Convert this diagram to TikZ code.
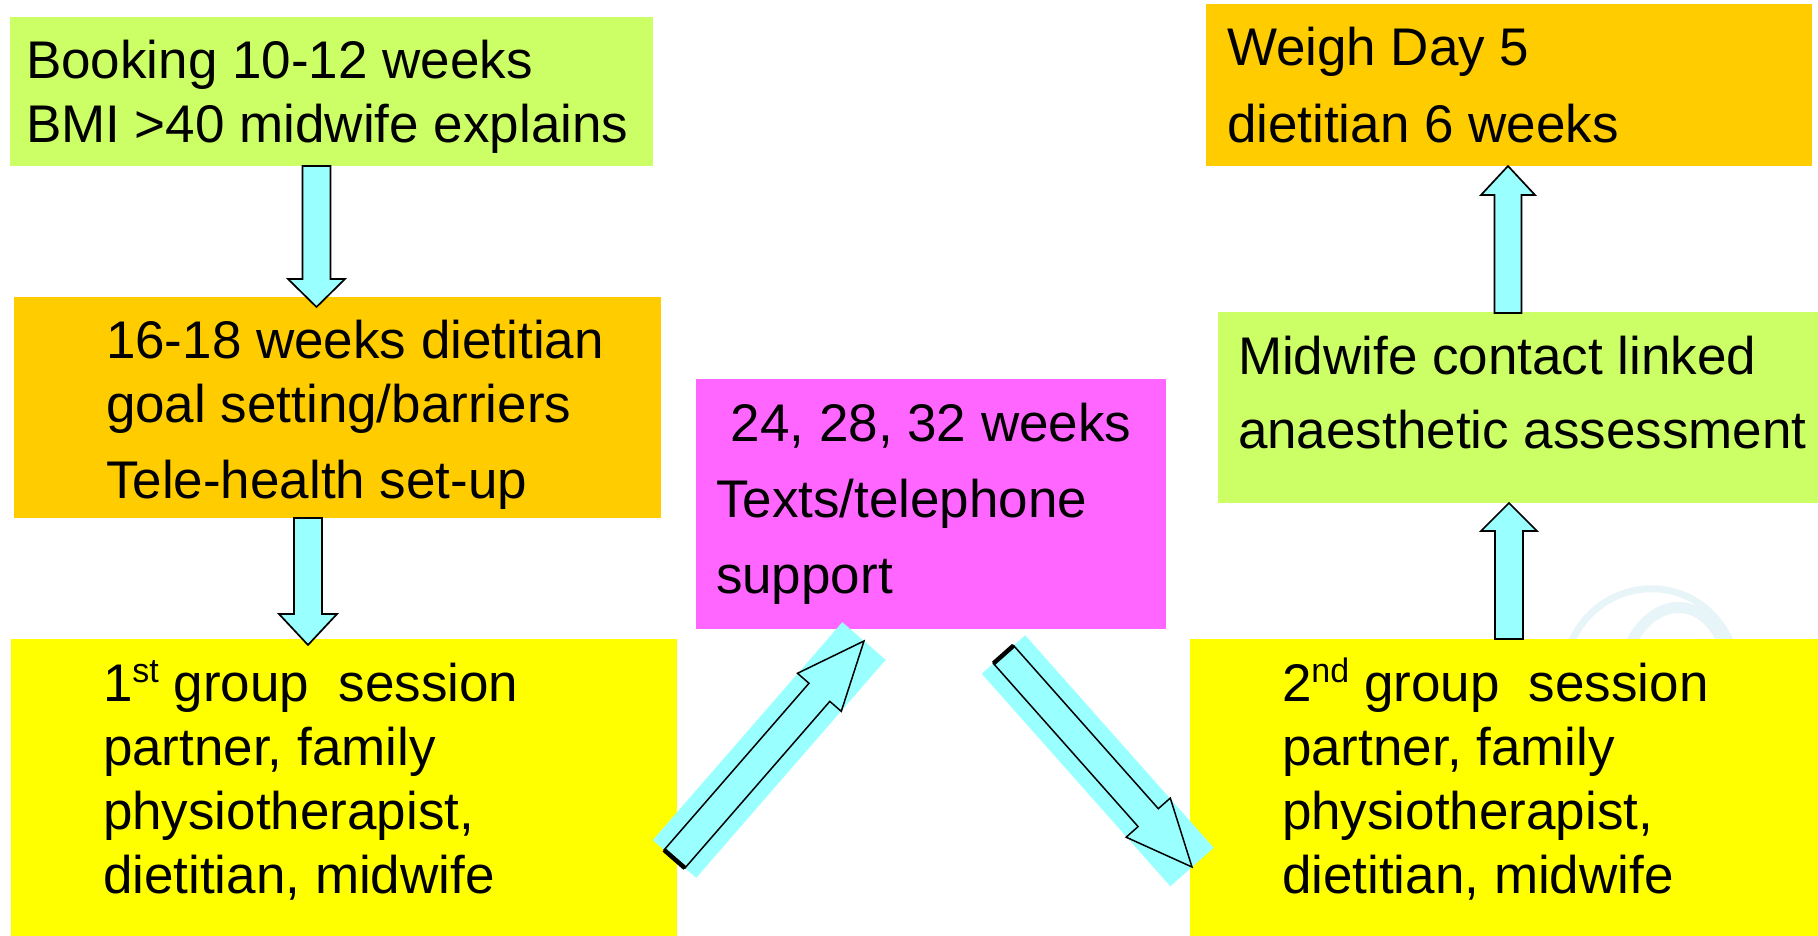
\documentclass[tikz,border=0pt]{standalone}
\usepackage{fontspec}
\setmainfont{Liberation Sans}
\usetikzlibrary{calc}
\definecolor{lgreen}{HTML}{CCFF66}
\definecolor{gold}{HTML}{FFCC00}
\definecolor{yel}{HTML}{FFFF00}
\definecolor{pinkbox}{HTML}{FF66FF}
\definecolor{aqua}{HTML}{99FFFF}
\definecolor{wmark}{RGB}{232,245,248}
\newcommand\boxlines[1]{\begin{tabular}[t]{@{}l@{}}#1\end{tabular}}
\newcommand\supr[1]{\raisebox{0.34em}{\fontsize{34}{34}\selectfont #1}}
% #1 tail, #2 tip, #3 shaft half width, #4 head half width, #5 head length, #6 style
\newcommand\blockarrow[6]{%
  \coordinate (ba-h) at ($(#2)!#5!(#1)$);
  \draw[#6] ($(#1)!#3!90:(#2)$) -- ($(ba-h)!#3!90:(#2)$) -- ($(ba-h)!#4!90:(#2)$)
    -- (#2) -- ($(ba-h)!#4!-90:(#2)$) -- ($(ba-h)!#3!-90:(#2)$)
    -- ($(#1)!#3!-90:(#2)$) -- cycle;
}
% #1 tail, #2 tip, #3 half width
\newcommand\arrowband[3]{%
  \fill[aqua] ($(#1)!#3!90:(#2)$) -- ($(#2)!#3!-90:(#1)$) -- ($(#2)!#3!90:(#1)$)
    -- ($(#1)!#3!-90:(#2)$) -- cycle;
}
\begin{document}
\begin{tikzpicture}[x=1pt,y=-1pt,
  panel/.style={draw=none,rectangle,inner sep=0pt,outer sep=0pt,anchor=north west},
  boxtext/.style={anchor=base west,inner sep=0pt,outer sep=0pt,font=\fontsize{53}{64}\selectfont},
  barrow/.style={fill=aqua,draw=black,line width=1.7pt,line join=miter},
  tailedge/.style={draw=black,line width=4.5pt}]

\path[use as bounding box] (0,0) rectangle (1818,936);

% faint watermark
\draw[wmark,line width=7pt] (1570,645) .. controls (1600,572) and (1700,568) .. (1732,645);
\draw[wmark,line width=11pt] (1630,645) .. controls (1652,598) and (1702,592) .. (1724,645);

% boxes
\node[panel,fill=lgreen,minimum width=643pt,minimum height=149pt] (A) at (10,17) {};
\node[panel,fill=gold,minimum width=647pt,minimum height=221pt] (B) at (14,297) {};
\node[panel,fill=yel,minimum width=666pt,minimum height=297pt] (C) at (11,639) {};
\node[panel,fill=pinkbox,minimum width=470pt,minimum height=250pt] (D) at (696,379) {};
\node[panel,fill=yel,minimum width=628pt,minimum height=297pt] (E) at (1190,639) {};
\node[panel,fill=lgreen,minimum width=600pt,minimum height=191pt] (F) at (1218,312) {};
\node[panel,fill=gold,minimum width=606pt,minimum height=162pt] (G) at (1206,4) {};

% texts
\node[boxtext] (At) at (26,79) {\boxlines{Booking 10-12 weeks\\BMI >40 midwife explains}};
\node[boxtext] (Bt) at (106,358) {\boxlines{16-18 weeks dietitian\\goal setting/barriers\\[12pt]Tele-health set-up}};
\node[boxtext] (Ct) at (103,701) {\boxlines{1\supr{st} group~~session\\partner, family\\physiotherapist,\\dietitian, midwife}};
\node[boxtext] (Dt) at (716,441) {\boxlines{\ 24, 28, 32 weeks\\[12pt]Texts/telephone\\[12pt]support}};
\node[boxtext] (Et) at (1282,701) {\boxlines{2\supr{nd} group~~session\\partner, family\\physiotherapist,\\dietitian, midwife}};
\node[boxtext] (Ft) at (1238,374) {\boxlines{Midwife contact linked\\[10pt]anaesthetic assessment}};
\node[boxtext] (Gt) at (1227,66) {\boxlines{Weigh Day 5\\[13pt]dietitian 6 weeks}};

% vertical block arrows
\coordinate (a1s) at (316.5,166);  \coordinate (a1t) at (316.5,307);
\coordinate (a2s) at (308,518);    \coordinate (a2t) at (308,645);
\coordinate (a3s) at (1509,639);   \coordinate (a3t) at (1509,503);
\coordinate (a4s) at (1508,313);   \coordinate (a4t) at (1508,166);
\blockarrow{a1s}{a1t}{14pt}{28.5pt}{28pt}{barrow}
\blockarrow{a2s}{a2t}{14pt}{29pt}{31pt}{barrow}
\blockarrow{a3s}{a3t}{14pt}{28pt}{28pt}{barrow}
\blockarrow{a4s}{a4t}{13.5pt}{27pt}{29pt}{barrow}

% diagonal block arrows on cyan bands
\coordinate (d1s) at (674.5,859);  \coordinate (d1t) at (864,641);
\coordinate (d2s) at (1003.5,654.5); \coordinate (d2t) at (1192,867);
\arrowband{d1s}{d1t}{28.7pt}
\arrowband{d2s}{d2t}{29pt}
\blockarrow{d1s}{d1t}{13.8pt}{29pt}{68pt}{barrow,line width=1.5pt}
\blockarrow{d2s}{d2t}{13.5pt}{29.5pt}{66pt}{barrow,line width=1.5pt}
\draw[tailedge] ($(d1s)!13.8pt!90:(d1t)$) -- ($(d1s)!13.8pt!-90:(d1t)$);
\draw[tailedge] ($(d2s)!13.5pt!90:(d2t)$) -- ($(d2s)!13.5pt!-90:(d2t)$);
\end{tikzpicture}
\end{document}
